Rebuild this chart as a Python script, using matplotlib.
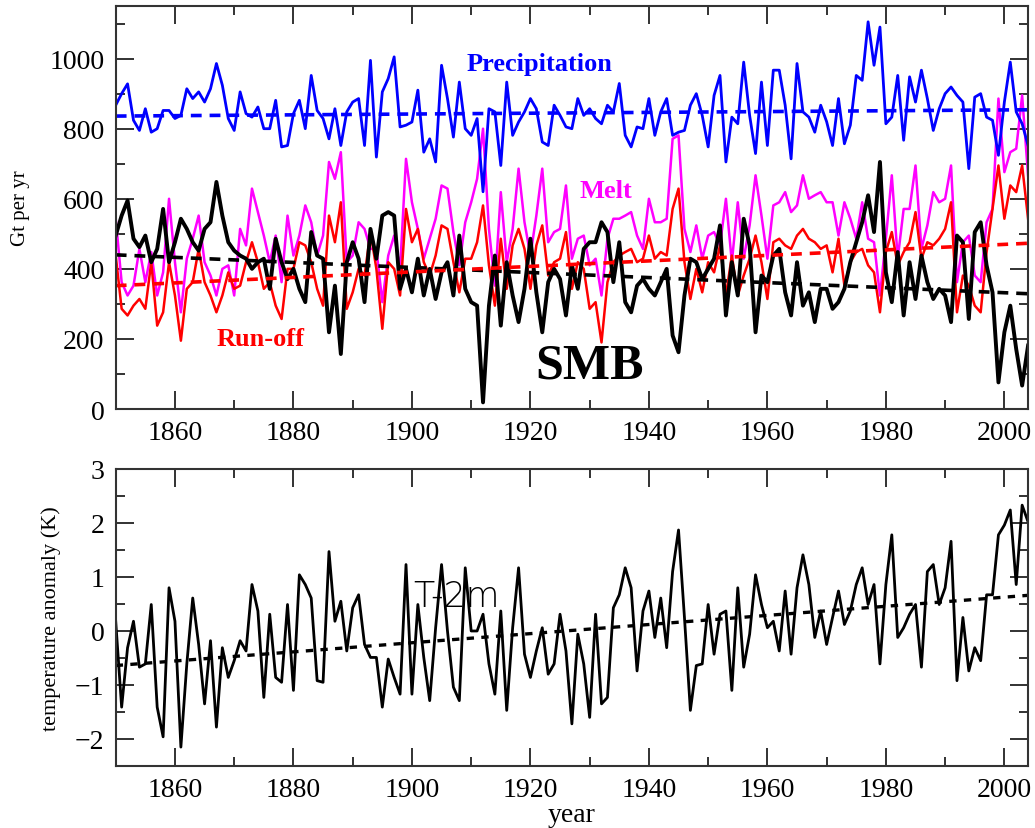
import numpy as np
import matplotlib
matplotlib.use("Agg")
import matplotlib.pyplot as plt
from matplotlib.ticker import MultipleLocator

# yearly values
years = np.arange(1850, 2005)

precipitation = [
    867, 900, 928, 824, 795, 857, 790, 800, 852, 852,
    829, 838, 914, 886, 905, 876, 914, 986, 924, 829,
    795, 905, 843, 833, 862, 800, 800, 881, 748, 752,
    843, 881, 800, 952, 852, 829, 771, 857, 752, 848,
    876, 886, 752, 995, 719, 905, 943, 1005, 805, 810,
    819, 910, 733, 771, 705, 981, 886, 776, 933, 800,
    781, 829, 620, 857, 848, 695, 933, 781, 819, 848,
    886, 857, 762, 752, 867, 838, 805, 800, 886, 838,
    857, 829, 814, 867, 848, 929, 781, 748, 805, 800,
    886, 781, 848, 886, 781, 790, 795, 867, 900, 838,
    748, 895, 952, 705, 833, 814, 990, 838, 729, 933,
    752, 967, 967, 867, 714, 986, 848, 833, 790, 867,
    820, 752, 886, 757, 810, 952, 938, 1105, 981, 1090,
    814, 833, 952, 767, 948, 876, 967, 886, 795, 857,
    900, 919, 895, 876, 686, 890, 900, 833, 824, 724,
    876, 990, 848, 814, 752,
]

smb = [
    495, 552, 595, 486, 462, 495, 419, 457, 571, 419,
    476, 543, 514, 476, 452, 514, 533, 648, 552, 476,
    452, 438, 429, 400, 419, 429, 343, 486, 419, 371,
    400, 343, 305, 505, 438, 429, 219, 352, 157, 419,
    476, 429, 305, 514, 429, 552, 562, 552, 343, 400,
    333, 429, 324, 400, 314, 390, 419, 324, 495, 343,
    305, 295, 19, 295, 438, 238, 419, 324, 248, 343,
    486, 333, 219, 362, 400, 371, 267, 410, 343, 457,
    476, 476, 533, 505, 362, 476, 305, 276, 352, 371,
    343, 324, 362, 400, 210, 162, 324, 429, 419, 371,
    400, 429, 524, 267, 419, 324, 543, 467, 219, 381,
    362, 438, 457, 333, 267, 419, 295, 333, 248, 343,
    343, 286, 305, 343, 419, 476, 533, 610, 505, 705,
    390, 305, 448, 267, 419, 314, 438, 362, 314, 343,
    324, 248, 495, 476, 257, 505, 533, 410, 333, 76,
    219, 295, 171, 67, 181,
]

melt = [
    543, 362, 324, 352, 457, 362, 448, 324, 390, 600,
    419, 276, 429, 486, 552, 419, 381, 324, 400, 410,
    324, 514, 467, 629, 562, 495, 419, 495, 362, 552,
    438, 495, 581, 533, 438, 495, 705, 657, 733, 419,
    438, 533, 514, 457, 457, 305, 438, 495, 400, 714,
    590, 514, 429, 486, 543, 638, 629, 505, 410, 533,
    590, 657, 800, 514, 352, 619, 419, 514, 686, 533,
    438, 552, 686, 476, 505, 514, 638, 429, 486, 495,
    410, 429, 324, 486, 543, 543, 552, 562, 495, 457,
    600, 533, 533, 543, 771, 781, 514, 448, 524, 429,
    495, 505, 467, 600, 419, 590, 429, 524, 667, 552,
    429, 581, 590, 619, 562, 581, 667, 600, 610, 619,
    590, 590, 495, 590, 543, 486, 590, 486, 476, 324,
    486, 667, 429, 571, 571, 695, 457, 524, 619, 590,
    600, 695, 362, 476, 495, 381, 362, 533, 571, 886,
    676, 733, 743, 895, 667,
]

runoff = [
    438, 286, 267, 295, 314, 286, 419, 238, 276, 419,
    324, 195, 343, 362, 457, 362, 324, 276, 324, 390,
    343, 352, 419, 476, 419, 343, 362, 295, 257, 400,
    400, 476, 467, 419, 343, 295, 552, 476, 590, 286,
    333, 400, 381, 505, 400, 229, 419, 400, 324, 571,
    476, 514, 419, 381, 438, 524, 514, 419, 333, 429,
    429, 476, 581, 410, 295, 486, 343, 467, 514, 457,
    343, 467, 524, 381, 419, 429, 505, 343, 419, 400,
    286, 305, 190, 362, 419, 438, 448, 457, 419, 429,
    495, 429, 448, 438, 571, 629, 419, 314, 400, 333,
    419, 390, 467, 324, 438, 324, 381, 429, 495, 419,
    314, 476, 486, 467, 457, 495, 514, 486, 476, 457,
    467, 390, 486, 352, 419, 448, 457, 410, 390, 276,
    448, 505, 410, 448, 476, 562, 429, 476, 467, 486,
    514, 590, 276, 381, 352, 295, 276, 448, 571, 695,
    543, 638, 619, 695, 543,
]

t2m = [
    0.18, -1.41, -0.31, 0.18, -0.67, -0.61, 0.49, -1.41, -1.96, 0.80,
    0.18, -2.15, -0.61, 0.61, -0.25, -1.35, -0.18, -1.78, -0.31, -0.86,
    -0.55, -0.18, -0.37, 0.86, 0.37, -1.23, 0.31, -0.86, -0.95, 0.49,
    -1.10, 1.04, 0.86, 0.61, -0.92, -0.95, 1.47, 0.18, 0.55, -0.37,
    0.43, 0.67, -0.25, -0.49, -0.49, -1.41, -0.52, -0.86, -1.17, 1.23,
    -1.17, 0.49, -0.49, -1.29, 0.06, 1.23, 0.00, -1.04, -1.29, 1.17,
    0.00, 0.00, 0.31, -0.61, -1.17, 0.37, -1.47, 0.06, 1.17, -0.43,
    -0.86, -0.37, 0.06, -0.80, -0.61, 0.31, -0.37, -1.72, -0.06, -0.61,
    -1.60, 0.31, -1.35, -1.23, 0.43, 0.67, 1.17, 0.80, -0.74, 0.37,
    0.74, -0.12, 0.61, -0.31, 1.10, 1.87, 0.25, -1.47, -0.64, -0.61,
    0.49, -0.43, 0.31, 0.37, -1.10, 0.80, -0.67, -0.06, 1.04, 0.49,
    0.06, 0.18, -0.37, 0.74, -0.43, 0.80, 1.41, 0.86, -0.12, 0.37,
    -0.25, 0.25, 0.74, 0.12, 0.37, 0.86, 1.17, 0.49, 0.86, -0.61,
    0.86, 1.78, -0.12, 0.06, 0.31, 0.49, -0.67, 1.10, 1.23, 0.49,
    0.80, 1.66, -0.92, 0.25, -0.74, -0.31, -0.55, 0.67, 0.67, 1.78,
    1.96, 2.24, 0.86, 2.33, 2.02,
]

# linear trends (start 1850, end 2004)
trend_years = [1850, 2004]
precip_trend = [836, 854]
smb_trend = [440, 329]
runoff_trend = [352, 473]
t2m_trend = [-0.64, 0.66]

plt.rcParams["font.family"] = ["Liberation Serif", "DejaVu Serif"]

fig = plt.figure(figsize=(10.35, 8.29), dpi=100)
ax1 = fig.add_axes([0.1118, 0.5054, 0.8815, 0.4861])
ax2 = fig.add_axes([0.1118, 0.0748, 0.8815, 0.3583])

# top panel: mass balance components
ax1.plot(years, melt, color="#ff00ff", lw=1.8)
ax1.plot(years, runoff, color="#ff0000", lw=1.8)
ax1.plot(years, precipitation, color="#0000ff", lw=2.0)
ax1.plot(years, smb, color="black", lw=2.8)
ax1.plot(trend_years, precip_trend, color="#0000ff", lw=2.6, dashes=(3, 2.2))
ax1.plot(trend_years, smb_trend, color="black", lw=2.6, dashes=(3, 2.2))
ax1.plot(trend_years, runoff_trend, color="#ff0000", lw=2.6, dashes=(3, 2.2))

ax1.text(1921.5, 985, "Precipitation", color="#0000ff", fontsize=19,
         fontweight="bold", ha="center", va="center")
ax1.text(1932.7, 625, "Melt", color="#ff00ff", fontsize=19,
         fontweight="bold", ha="center", va="center")
ax1.text(1874.4, 200, "Run-off", color="#ff0000", fontsize=19,
         fontweight="bold", ha="center", va="center")
ax1.text(1930.0, 125, "SMB", color="black", fontsize=36,
         fontweight="bold", ha="center", va="center")

ax1.set_xlim(1850, 2004)
ax1.set_ylim(0, 1150)
ax1.yaxis.set_major_locator(MultipleLocator(200))
ax1.yaxis.set_minor_locator(MultipleLocator(100))
ax1.set_ylabel("Gt per yr", fontsize=15, labelpad=14)

# bottom panel: 2 m temperature anomaly
ax2.plot(years, t2m, color="black", lw=2.0)
ax2.plot(trend_years, t2m_trend, color="black", lw=2.4, dashes=(2.2, 2.2))
ax2.text(1907.5, 0.65, "T-2m", family="DejaVu Sans", fontsize=25,
         color="black", ha="center", va="center", fontweight="light")

ax2.set_xlim(1850, 2004)
ax2.set_ylim(-2.5, 3)
ax2.yaxis.set_major_locator(MultipleLocator(1))
ax2.yaxis.set_minor_locator(MultipleLocator(0.5))
ax2.set_ylabel("temperature anomaly (K)", fontsize=16, labelpad=10)
ax2.set_xlabel("year", fontsize=20, labelpad=0)

for ax in (ax1, ax2):
    ax.xaxis.set_major_locator(MultipleLocator(20))
    ax.xaxis.set_minor_locator(MultipleLocator(10))
    ax.tick_params(which="both", direction="in", top=True, right=True,
                   labelsize=20, color="#222222", width=1.3, pad=8)
    ax.tick_params(which="major", length=13)
    ax.tick_params(which="minor", length=6.5)
    for s in ax.spines.values():
        s.set_color("#333333")
        s.set_linewidth(1.5)

fig.savefig("out.png", dpi=100)
